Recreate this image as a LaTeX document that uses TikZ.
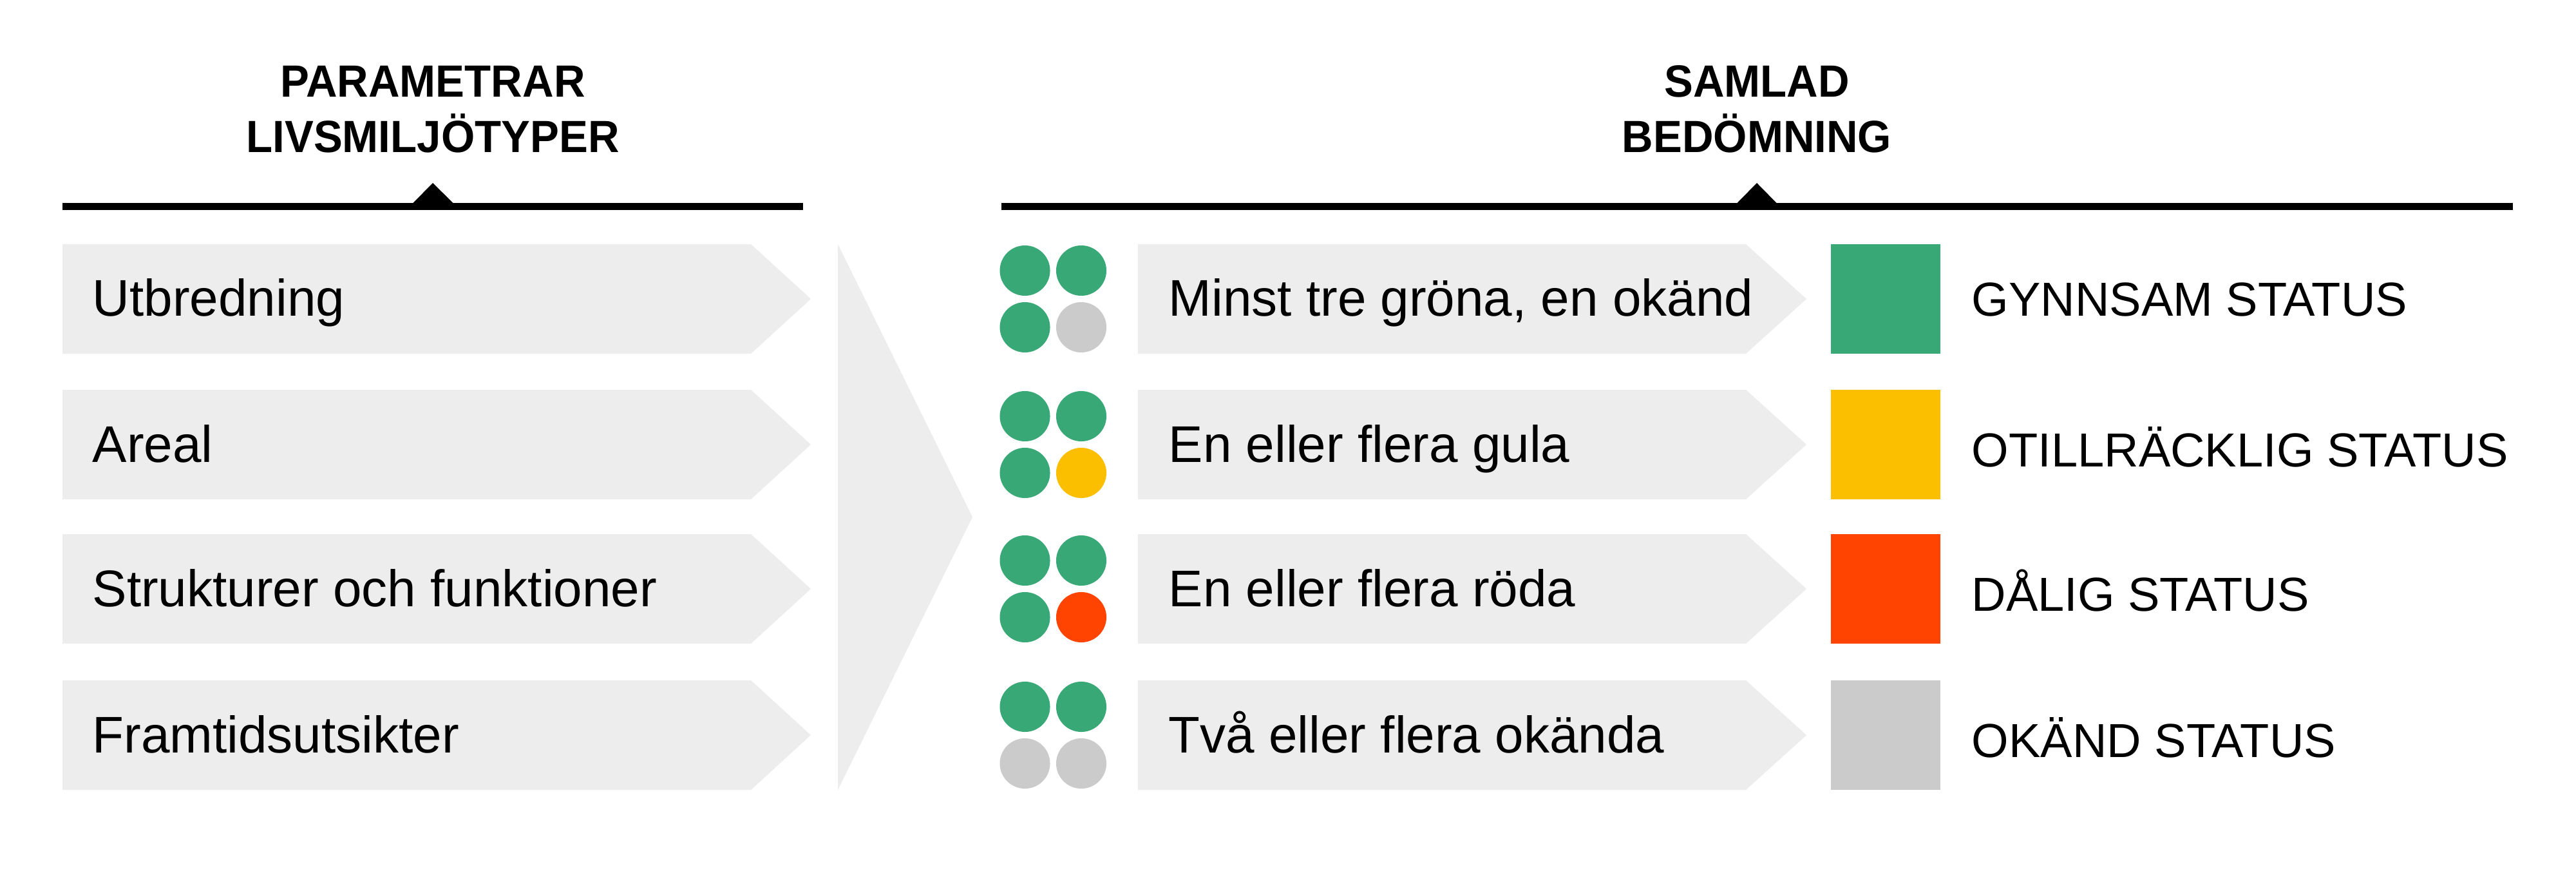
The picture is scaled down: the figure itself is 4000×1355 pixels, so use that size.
\documentclass[tikz,border=0pt]{standalone}
\usepackage{fontspec}
\setmainfont{Liberation Sans}
\newfontfamily\headfont{Liberation Sans}[FakeStretch=0.96]
\definecolor{cgreen}{HTML}{37A876}
\definecolor{cyellow}{HTML}{FCBF00}
\definecolor{cred}{HTML}{FF4300}
\definecolor{cgray}{HTML}{CBCBCB}
\definecolor{boxgray}{HTML}{EDEDED}
\begin{document}
\begin{tikzpicture}[x=0.01cm,y=-0.01cm,
  bodytext/.style={anchor=base west,inner sep=0pt,font=\fontsize{22.76}{27}\selectfont},
  statustext/.style={anchor=base west,inner sep=0pt,font=\fontsize{21.06}{25}\selectfont},
  headtext/.style={anchor=south,inner sep=0pt,align=center,font=\headfont\bfseries\fontsize{19.92}{24.47}\selectfont},
  boxfill/.style={fill=boxgray},
  rulefill/.style={fill=black}]
\useasboundingbox (0,0) rectangle (4000,1355);
\fill[white] (0,0) rectangle (4000,1355);

% headers
\node[headtext] (hl) at (672,238) {PARAMETRAR\\LIVSMILJÖTYPER};
\node[headtext] (hr) at (2728,238) {SAMLAD\\BEDÖMNING};
\fill[rulefill] (97,315) rectangle (1247,326);
\fill[rulefill] (641,315.5) -- (672,284) -- (704,315.5) -- cycle;
\fill[rulefill] (1555,315) rectangle (3902,326);
\fill[rulefill] (2697,315.5) -- (2728,284) -- (2759,315.5) -- cycle;

% big chevron
\fill[boxfill] (1301,379) -- (1510,802.5) -- (1301,1226) -- cycle;

% rows
\foreach \t/\ptext/\ctext/\stext/\sq/\dc/\dd/\sb [count=\i] in {
  379/Utbredning/{Minst tre gröna, en okänd}/{GYNNSAM STATUS}/cgreen/cgreen/cgray/491,
  605/Areal/{En eller flera gula}/{OTILLRÄCKLIG STATUS}/cyellow/cgreen/cyellow/724,
  829/{Strukturer och funktioner}/{En eller flera röda}/{DÅLIG STATUS}/cred/cgreen/cred/948,
  1056/Framtidsutsikter/{Två eller flera okända}/{OKÄND STATUS}/cgray/cgray/cgray/1175}{
  \fill[boxfill] (97,\t) -- (1166,\t) -- (1259,\t+85) -- (1166,\t+170) -- (97,\t+170) -- cycle;
  \node[bodytext] (p\i) at (143,\t+112) {\ptext};
  \fill[cgreen] (1591.5,\t+41) circle[radius=0.39cm];
  \fill[cgreen] (1679,\t+41) circle[radius=0.39cm];
  \fill[\dc] (1591.5,\t+129) circle[radius=0.39cm];
  \fill[\dd] (1679,\t+129) circle[radius=0.39cm];
  \fill[boxfill] (1767,\t) -- (2711,\t) -- (2805,\t+85) -- (2711,\t+170) -- (1767,\t+170) -- cycle;
  \node[bodytext] (c\i) at (1814,\t+112) {\ctext};
  \fill[\sq] (2843,\t) rectangle (3013,\t+170);
  \node[statustext] (s\i) at (3061,\sb) {\stext};
}
\end{tikzpicture}
\end{document}
